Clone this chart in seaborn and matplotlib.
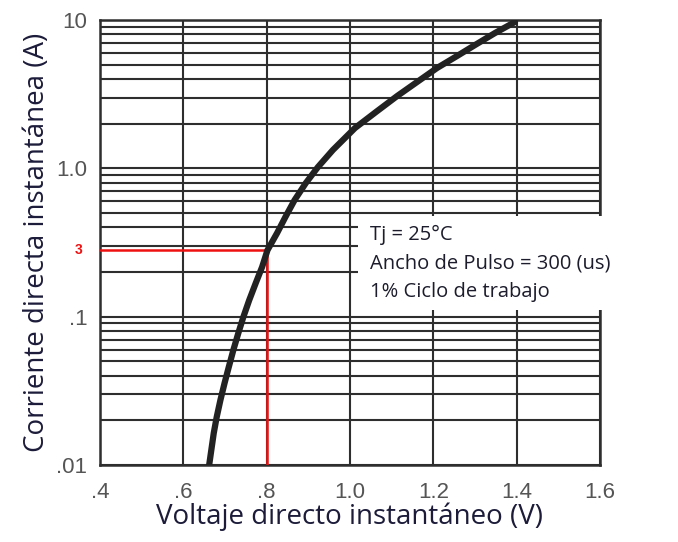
import matplotlib
matplotlib.use("Agg")
import matplotlib.pyplot as plt
import matplotlib.ticker as ticker
from matplotlib.patches import Rectangle
import seaborn as sns

# forward voltage (V) vs forward current (A)
voltage = [0.662, 0.673, 0.680, 0.689, 0.699, 0.709, 0.720, 0.732, 0.744, 0.758,
           0.774, 0.789, 0.802, 0.825, 0.845, 0.867, 0.894, 0.923, 0.959, 1.012,
           1.065, 1.113, 1.161, 1.209, 1.257, 1.300, 1.348, 1.396]
current = [0.0100, 0.0164, 0.0210, 0.0274, 0.0357, 0.0457, 0.0595, 0.0775, 0.0994, 0.129,
           0.169, 0.216, 0.281, 0.366, 0.470, 0.611, 0.796, 1.02, 1.33, 1.87,
           2.43, 3.07, 3.82, 4.75, 5.72, 6.78, 8.17, 9.70]

x_ticks = [0.4, 0.6, 0.8, 1.0, 1.2, 1.4, 1.6]
x_labels = [".4", ".6", ".8", "1.0", "1.2", "1.4", "1.6"]
y_ticks = [0.01, 0.1, 1.0, 10]
y_labels = [".01", ".1", "1.0", "10"]

mark_v = 0.8
mark_i = 0.281
mark_label = "3"

notes = ["Tj = 25°C", "Ancho de Pulso = 300 (us)", "1% Ciclo de trabajo"]

sns.set_theme(style="white")
plt.rcParams["font.family"] = ["Open Sans", "DejaVu Sans"]

fig = plt.figure(figsize=(6.78, 5.42), dpi=100)
ax = fig.add_axes([100 / 678, 1 - 465 / 542, 500 / 678, 445 / 542])

grid_col = "#2e2e2e"
ax.set_yscale("log")
ax.set_xlim(0.4, 1.6)
ax.set_ylim(0.01, 10)
ax.set_xticks(x_ticks)
ax.set_xticklabels(x_labels)
ax.yaxis.set_major_locator(ticker.FixedLocator(y_ticks))
ax.yaxis.set_major_formatter(ticker.FixedFormatter(y_labels))
ax.yaxis.set_minor_locator(ticker.LogLocator(base=10, subs=range(2, 10)))
ax.yaxis.set_minor_formatter(ticker.NullFormatter())
ax.grid(True, which="both", color=grid_col, linewidth=1.5)
ax.tick_params(which="both", length=0)
ax.tick_params(axis="both", labelsize=16, labelcolor="#555555")
ax.tick_params(axis="x", pad=12)
ax.tick_params(axis="y", pad=9)
for lab in ax.get_xticklabels() + ax.get_yticklabels():
    lab.set_family(["Liberation Sans", "DejaVu Sans"])
for sp in ax.spines.values():
    sp.set_color(grid_col)
    sp.set_linewidth(1.8)

sns.lineplot(x=voltage, y=current, ax=ax, color="#222222", linewidth=4.5,
             sort=False, zorder=4)

# red marker lines at the operating point
ax.plot([0.4, mark_v], [mark_i, mark_i], color="#ee1111", linewidth=1.8, zorder=3)
ax.plot([mark_v, mark_v], [0.01, mark_i], color="#ee1111", linewidth=1.8, zorder=3)
ax.text(-0.035, mark_i, mark_label, transform=ax.get_yaxis_transform(),
        color="#ee1111", fontsize=10, fontweight="bold", ha="right", va="center",
        family=["Liberation Sans", "DejaVu Sans"])

# note box covering part of the grid
ax.add_patch(Rectangle((0.516, 0.348), 0.54, 0.212, transform=ax.transAxes,
                       facecolor="white", edgecolor="none", zorder=5, clip_on=False))
for k, txt in enumerate(notes):
    ax.text(0.54, 0.517 - k * 0.064, txt, transform=ax.transAxes, fontsize=14.5,
            color="#1c1c2c", ha="left", va="center", zorder=6)

ax.set_xlabel("Voltaje directo instantáneo (V)", fontsize=20, color="#1c1c3a", labelpad=0)
ax.set_ylabel("Corriente directa instantánea (A)", fontsize=20, color="#1c1c3a", labelpad=4)

fig.savefig("out.png", dpi=100)
